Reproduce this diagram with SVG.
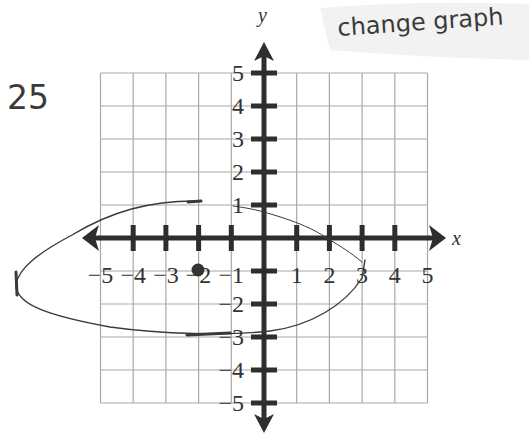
<svg xmlns="http://www.w3.org/2000/svg" width="529" height="433" viewBox="0 0 529 433">
<style>
.grid{stroke:#a8a8a8;stroke-width:1.2;fill:none}
.axis{stroke:#2e2e2e;stroke-width:5;fill:none}
.tick{stroke:#2e2e2e;stroke-width:5}
.head{fill:#2e2e2e}
.num{font-family:"Liberation Serif",serif;font-size:24px;fill:#333}
.lab{font-family:"Liberation Serif",serif;font-style:italic;font-size:20px;fill:#333}
.hand{font-family:"DejaVu Sans",sans-serif;fill:#3a3a3a}
.pen{stroke:#3a3a3a;fill:none;stroke-linecap:round;stroke-linejoin:round}
</style>
<rect width="529" height="433" fill="#ffffff"/>
<path d="M320 8 Q420 0 529 4 L529 60 Q430 58 330 50 Z" fill="#f2f2f2"/>
<g id="grid">
<path class="grid" d="M100.5 73V403M133.2 73V403M165.9 73V403M198.6 73V403M231.3 73V403M296.7 73V403M329.4 73V403M362.1 73V403M394.8 73V403M427.5 73V403"/>
<path class="grid" d="M100.5 73H427.5M100.5 106H427.5M100.5 139H427.5M100.5 172H427.5M100.5 205H427.5M100.5 271H427.5M100.5 304H427.5M100.5 337H427.5M100.5 370H427.5M100.5 403H427.5"/>
</g>
<g id="axes">
<line class="axis" x1="92" y1="238" x2="436" y2="238"/>
<line class="axis" x1="264" y1="52" x2="264" y2="424"/>
<polygon class="head" points="82,238 99,225 95,238 99,251"/>
<polygon class="head" points="446,238 429,225 433,238 429,251"/>
<polygon class="head" points="264,42 254,61 264,56 274,61"/>
<polygon class="head" points="264,433 254,414 264,419 274,414"/>
<g class="tick">
<line x1="133.2" y1="225" x2="133.2" y2="251"/>
<line x1="165.9" y1="225" x2="165.9" y2="251"/>
<line x1="198.6" y1="225" x2="198.6" y2="251"/>
<line x1="231.3" y1="225" x2="231.3" y2="251"/>
<line x1="296.7" y1="225" x2="296.7" y2="251"/>
<line x1="329.4" y1="225" x2="329.4" y2="251"/>
<line x1="362.1" y1="225" x2="362.1" y2="251"/>
<line x1="394.8" y1="225" x2="394.8" y2="251"/>
<line x1="251" y1="73" x2="277" y2="73"/>
<line x1="251" y1="106" x2="277" y2="106"/>
<line x1="251" y1="139" x2="277" y2="139"/>
<line x1="251" y1="172" x2="277" y2="172"/>
<line x1="251" y1="205" x2="277" y2="205"/>
<line x1="251" y1="271" x2="277" y2="271"/>
<line x1="251" y1="304" x2="277" y2="304"/>
<line x1="251" y1="337" x2="277" y2="337"/>
<line x1="251" y1="370" x2="277" y2="370"/>
<line x1="251" y1="403" x2="277" y2="403"/>
</g>
</g>
<g id="xlabels" class="num" text-anchor="middle">
<text x="100.5" y="283">−5</text>
<text x="133.2" y="283">−4</text>
<text x="165.9" y="283">−3</text>
<text x="198.6" y="283">−2</text>
<text x="231.3" y="283">−1</text>
<text x="296.7" y="283">1</text>
<text x="329.4" y="283">2</text>
<text x="362.1" y="283">3</text>
<text x="394.8" y="283">4</text>
<text x="427.5" y="283">5</text>
</g>
<g id="ylabels" class="num" text-anchor="end">
<text x="244" y="81">5</text>
<text x="244" y="114">4</text>
<text x="244" y="147">3</text>
<text x="244" y="180">2</text>
<text x="244" y="213">1</text>
<text x="244" y="312">−2</text>
<text x="244" y="345">−3</text>
<text x="244" y="378">−4</text>
<text x="244" y="411">−5</text>
</g>
<text class="lab" x="452" y="245">x</text>
<text class="lab" x="258" y="22">y</text>
<text class="hand" x="7" y="109" font-size="33">25</text>
<text class="hand" x="338" y="36" font-size="24" transform="rotate(-4 338 36)">change graph</text>
<g id="curve">
<path class="pen" stroke-width="1.4" d="M200 201 C150 200 110 212 72 235 C40 252 18 268 16 285 C16 305 50 316 110 327 C160 334 230 336 270 331 C310 326 345 305 362 278 L365 260"/>
<path class="pen" stroke-width="3" d="M188 202 L201 201"/>
<path class="pen" stroke-width="3" d="M16 272 L17 295"/>
<path class="pen" stroke-width="3" d="M187 335 L230 333"/>
<path class="pen" stroke-width="1" d="M362 262 C350 252 340 246 330 240 C315 230 300 222 260 211 C248 208 240 207 233 206"/>
</g>
<circle id="point" cx="198" cy="270" r="6.5" fill="#333"/>
</svg>
